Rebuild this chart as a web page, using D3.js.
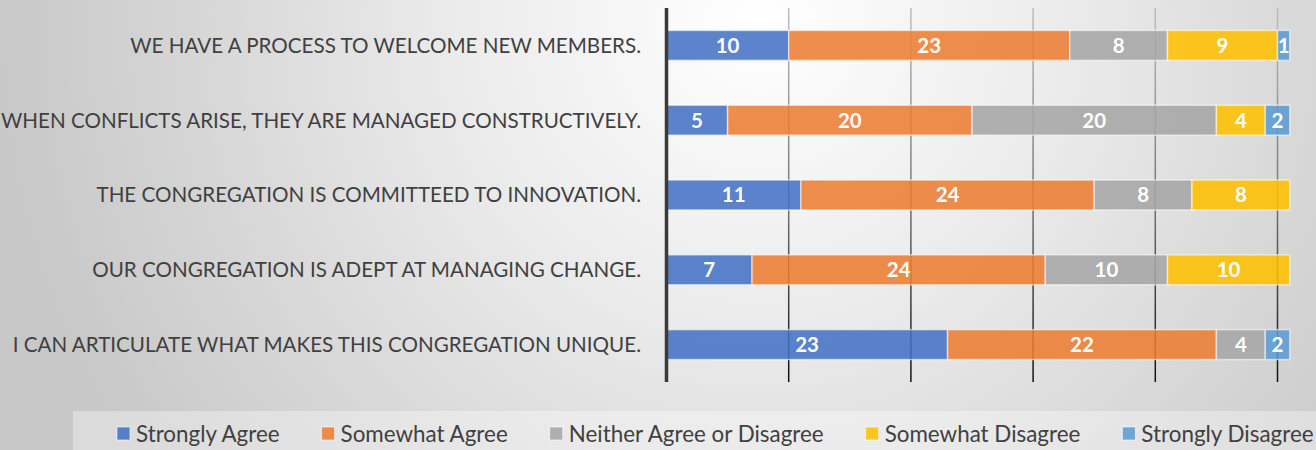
<!DOCTYPE html>
<html>
<head>
<meta charset="utf-8">
<script src="https://cdn.jsdelivr.net/npm/d3@7"></script>
<style>
  html, body { margin: 0; padding: 0; overflow: hidden; }
  svg { display: block; }
</style>
</head>
<body>
<div id="chart"></div>
<script>
// survey statements, top row first
const categories = [
  "WE HAVE A PROCESS TO WELCOME NEW MEMBERS.",
  "WHEN CONFLICTS ARISE, THEY ARE MANAGED CONSTRUCTIVELY.",
  "THE CONGREGATION IS COMMITTEED TO INNOVATION.",
  "OUR CONGREGATION IS ADEPT AT MANAGING CHANGE.",
  "I CAN ARTICULATE WHAT MAKES THIS CONGREGATION UNIQUE."
];
const seriesNames = ["Strongly Agree", "Somewhat Agree", "Neither Agree or Disagree", "Somewhat Disagree", "Strongly Disagree"];
const stronglyAgree    = [10, 5, 11, 7, 23];
const somewhatAgree    = [23, 20, 24, 24, 22];
const neither          = [8, 20, 8, 10, 4];
const somewhatDisagree = [9, 4, 8, 10, 0];
const stronglyDisagree = [1, 2, 0, 0, 2];
const gridTicks = [10, 20, 30, 40, 50, 60];

const colors = ["#4472C4", "#ED7D31", "#A5A5A5", "#FFC000", "#5B9BD5"];

const width = 1316, height = 450;
const allSeries = [stronglyAgree, somewhatAgree, neither, somewhatDisagree, stronglyDisagree];

// rows for d3.stack
const rows = categories.map((c, i) => {
  const r = { cat: c };
  seriesNames.forEach((s, j) => { r[s] = allSeries[j][i]; });
  return r;
});
const stacked = d3.stack().keys(seriesNames)(rows);

const svg = d3.select("#chart").append("svg")
  .attr("width", width)
  .attr("height", height);

const defs = svg.append("defs");
const bg = defs.append("radialGradient")
  .attr("id", "bg")
  .attr("gradientUnits", "userSpaceOnUse")
  .attr("cx", 760).attr("cy", 20).attr("r", 760);
bg.append("stop").attr("offset", 0).attr("stop-color", "#ffffff");
bg.append("stop").attr("offset", 0.4).attr("stop-color", "#ebebeb");
bg.append("stop").attr("offset", 0.75).attr("stop-color", "#d6d6d6");
bg.append("stop").attr("offset", 1).attr("stop-color", "#c8c8c8");

const gg = defs.append("linearGradient")
  .attr("id", "grid")
  .attr("gradientUnits", "userSpaceOnUse")
  .attr("x1", 0).attr("x2", 0).attr("y1", 8).attr("y2", 382);
gg.append("stop").attr("offset", 0).attr("stop-color", "#bdbdbd");
gg.append("stop").attr("offset", 0.5).attr("stop-color", "#777777");
gg.append("stop").attr("offset", 1).attr("stop-color", "#111111");

svg.append("rect")
  .attr("width", width).attr("height", height)
  .attr("fill", "url(#bg)");

const x = d3.scaleLinear().domain([0, 60]).range([666.5, 1399.7]);
const y = d3.scaleBand().domain(categories).range([8, 382])
  .paddingInner(0.6).paddingOuter(0.3);

// vertical gridlines
svg.append("g")
  .selectAll("line")
  .data(gridTicks)
  .join("line")
    .attr("x1", d => x(d)).attr("x2", d => x(d))
    .attr("y1", 8).attr("y2", 382)
    .attr("stroke", "url(#grid)")
    .attr("stroke-width", 1.5);

// stacked bars
const layer = svg.append("g")
  .selectAll("g")
  .data(stacked)
  .join("g")
    .attr("fill", (d, i) => colors[i]);

layer.selectAll("rect")
  .data(d => d.filter(p => p[1] - p[0] > 0))
  .join("rect")
    .attr("x", d => x(d[0]))
    .attr("y", d => y(d.data.cat))
    .attr("width", d => x(d[1]) - x(d[0]))
    .attr("height", y.bandwidth())
    .attr("fill-opacity", 0.87)
    .attr("stroke", "rgba(255,255,255,0.55)")
    .attr("stroke-width", 1.5);

layer.selectAll("text")
  .data(d => d.filter(p => p[1] - p[0] > 0))
  .join("text")
    .attr("x", d => (x(d[0]) + x(d[1])) / 2)
    .attr("y", d => y(d.data.cat) + y.bandwidth() / 2)
    .attr("dy", "0.36em")
    .attr("text-anchor", "middle")
    .attr("fill", "#ffffff")
    .attr("font-family", "Lato, sans-serif")
    .attr("font-weight", "bold")
    .attr("font-size", 20.5)
    .text(d => d[1] - d[0]);

// value axis line
svg.append("line")
  .attr("x1", x(0)).attr("x2", x(0))
  .attr("y1", 8).attr("y2", 382)
  .attr("stroke", "#3a3a3a")
  .attr("stroke-width", 3.5);

// category labels
svg.append("g")
  .selectAll("text")
  .data(categories)
  .join("text")
    .attr("x", 641)
    .attr("y", d => y(d) + y.bandwidth() / 2)
    .attr("dy", "0.36em")
    .attr("text-anchor", "end")
    .attr("fill", "#404040")
    .attr("font-family", "Lato, sans-serif")
    .attr("font-size", 20.6)
    .text(d => d);

// legend
svg.append("rect")
  .attr("x", 73).attr("y", 411)
  .attr("width", width - 73).attr("height", height - 411)
  .attr("fill", "#ffffff").attr("fill-opacity", 0.35);

const legend = svg.append("g");
let lx = 117;
seriesNames.forEach((name, i) => {
  legend.append("rect")
    .attr("x", lx).attr("y", 427)
    .attr("width", 13).attr("height", 13)
    .attr("fill", colors[i]).attr("fill-opacity", 0.87)
    .attr("stroke", "rgba(255,255,255,0.6)").attr("stroke-width", 1);
  const t = legend.append("text")
    .attr("x", lx + 19).attr("y", 433.5)
    .attr("dy", "0.36em")
    .attr("fill", "#404040")
    .attr("font-family", "Lato, sans-serif")
    .attr("font-size", 22.4)
    .text(name);
  lx += 19 + t.node().getComputedTextLength() + 42;
});
</script>
</body>
</html>
